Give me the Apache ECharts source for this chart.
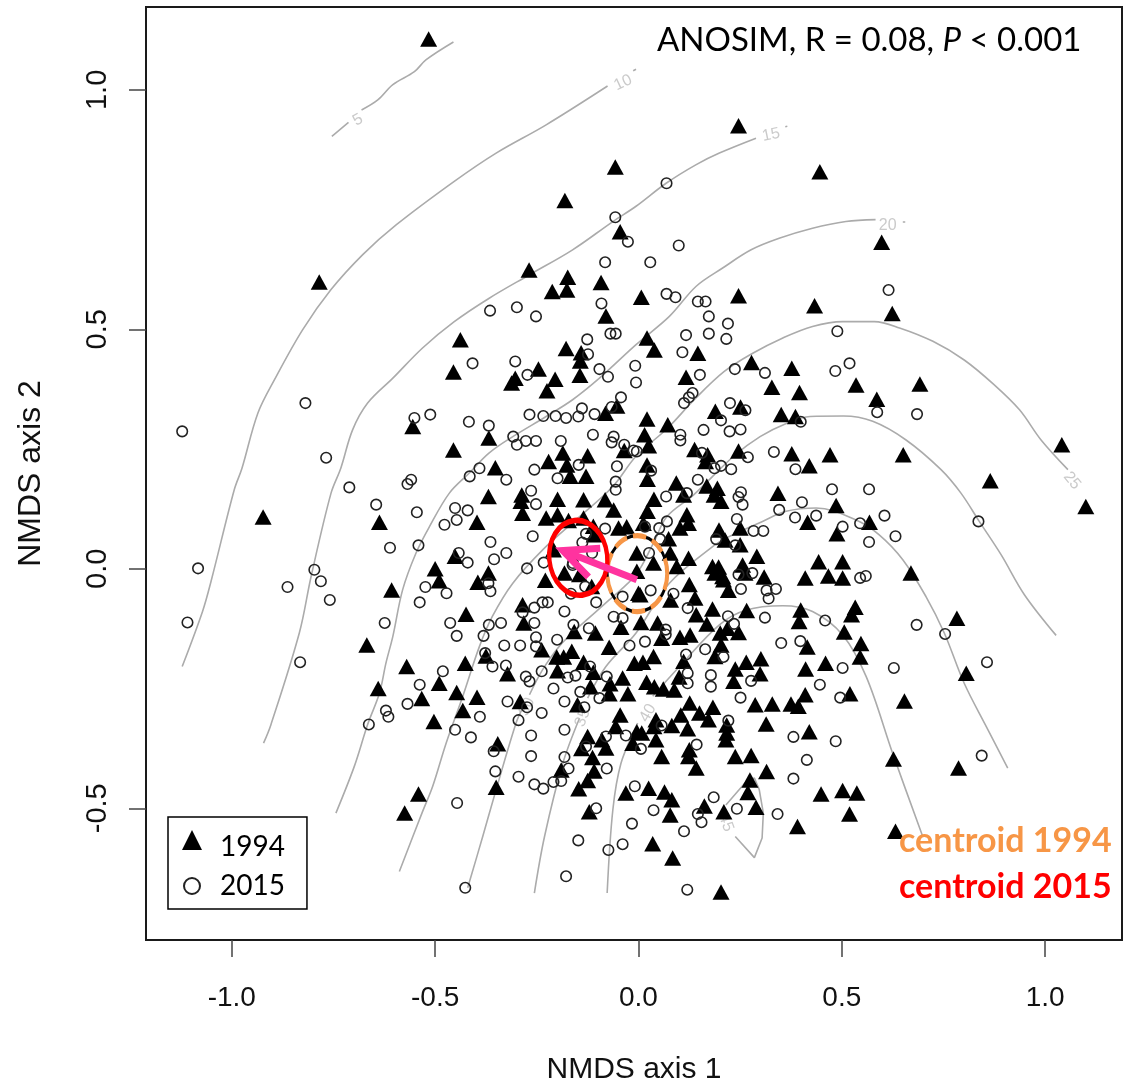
<!DOCTYPE html>
<html><head><meta charset="utf-8">
<style>html,body{margin:0;padding:0;background:#fff}#c{width:1126px;height:1082px}</style>
<script src="https://cdn.jsdelivr.net/npm/echarts@6/dist/echarts.min.js"></script>
</head><body><div id="c"></div>
<script>
const triangles1994 = [
[-0.516,1.106],[-0.057,0.839],[-0.181,0.769],[-0.045,0.704],[-0.269,0.624],[-0.785,0.599],[-0.174,0.609],[-0.176,0.582],[-0.212,0.579],[-0.092,0.598],[-0.080,0.528],[-0.438,0.478],[-0.178,0.460],[-0.141,0.451],[-0.143,0.434],[-0.455,0.411],[-0.303,0.398],[-0.312,0.388],[-0.246,0.417],[-0.205,0.396],[-0.225,0.372],[-0.144,0.404],[-0.053,0.340],[-0.081,0.325],[-0.555,0.297],[-0.368,0.273],[-0.455,0.248],[-0.186,0.242],[-0.125,0.236],[-0.035,0.247],[-0.221,0.224],[-0.176,0.217],[-0.352,0.211],
[0.246,0.925],[0.446,0.829],[0.598,0.682],[0.007,0.567],[0.246,0.570],[0.433,0.549],[0.624,0.533],[0.021,0.482],[0.039,0.457],[0.146,0.450],[0.278,0.431],[0.377,0.419],[0.117,0.400],[0.328,0.379],[0.396,0.368],[0.535,0.384],[0.692,0.386],[0.586,0.354],[0.189,0.329],[0.251,0.338],[0.351,0.322],[0.386,0.318],[0.021,0.313],[0.072,0.301],[1.041,0.259],[0.015,0.280],[0.025,0.257],[0.138,0.249],[0.170,0.238],[0.246,0.246],[0.377,0.240],[0.471,0.238],[0.651,0.238],[0.165,0.224],[0.420,0.215],[0.021,0.217],
[-0.369,0.151],[-0.168,0.193],[-0.129,0.193],[-0.287,0.154],[-0.289,0.141],[-0.285,0.116],[-0.199,0.145],[-0.135,0.144],[-0.082,0.144],[-0.061,0.123],[-0.227,0.106],[-0.199,0.113],[-0.172,0.101],[-0.135,0.106],[-0.111,0.089],[-0.049,0.085],[-0.029,0.088],[-0.397,0.097],[-0.209,0.040],[-0.451,0.026],
[0.343,0.158],[0.486,0.132],[0.416,0.097],[0.488,0.073],[0.568,0.097],[0.022,0.187],[0.093,0.179],[0.038,0.145],[0.111,0.154],[0.022,0.120],[0.168,0.173],[0.194,0.168],[0.186,0.154],[0.203,0.141],[0.119,0.113],[0.123,0.095],[0.102,0.085],[0.012,0.095],[0.074,0.063],[0.078,0.033],[0.198,0.081],[0.250,0.085],[0.213,0.060],[0.250,0.050],[0.123,0.022],[0.291,0.026],[0.256,0.008],[0.037,0.012],[0.182,0.005],[0.197,0.004],[0.443,0.015],[0.502,0.015],[0.094,0.005],
[-0.923,0.108],[-0.637,0.097],[-0.607,-0.044],[-0.500,0.000],[-0.490,-0.025],[-0.369,-0.009],[-0.395,-0.028],[-0.182,-0.009],[-0.145,-0.012],[-0.229,-0.024],[-0.109,0.071],[-0.285,-0.075],[-0.282,-0.113],[-0.424,-0.095],[-0.668,-0.159],[-0.570,-0.204],[-0.426,-0.197],[-0.375,-0.182],[-0.322,-0.219],[-0.490,-0.239],[-0.640,-0.250],[-0.447,-0.258],[-0.397,-0.268],[-0.533,-0.271],[-0.432,-0.296],[-0.503,-0.319],[-0.291,-0.277],[-0.238,-0.169],[-0.158,-0.131],[-0.106,-0.134],[-0.043,-0.122],[-0.072,-0.164],[-0.201,-0.184],[-0.184,-0.184],[-0.164,-0.172],[-0.135,-0.195],[-0.199,-0.213],[-0.111,-0.216],[-0.039,-0.228],[-0.070,-0.240],[-0.118,-0.246],[-0.072,-0.261],[-0.026,-0.261],[-0.150,-0.284],[-0.045,-0.305],[-0.056,-0.329],[-0.125,-0.350],[-0.090,-0.357],[-0.080,-0.374],[-0.140,-0.375],[-0.113,-0.394],[-0.109,-0.422],[-0.125,-0.442],[-0.147,-0.459],[-0.346,-0.365],[-0.190,-0.420],[-0.350,-0.456],[-0.541,-0.470],[-0.575,-0.510],[-0.031,-0.468],[-0.121,-0.507],[-0.014,-0.364],[-0.010,-0.197],[-0.004,-0.340],
[-0.004,0.033],[-0.004,-0.005],[0.000,-0.051],[-0.115,-0.037],[0.006,-0.112],[0.004,-0.054],
[0.410,-0.019],[0.467,-0.015],[0.502,-0.019],[0.309,-0.017],[0.262,-0.009],[0.221,-0.045],[0.209,-0.023],[0.188,-0.009],[0.125,-0.033],[0.139,-0.061],[0.079,-0.065],[0.182,-0.084],[0.142,-0.096],[0.266,-0.087],[0.168,-0.115],[0.399,-0.086],[0.395,-0.110],[0.533,-0.080],[0.524,-0.096],[0.506,-0.132],[0.547,-0.156],[0.545,-0.184],[0.047,-0.113],[0.057,-0.145],[0.102,-0.143],[0.127,-0.138],[0.201,-0.134],[0.219,-0.124],[0.246,-0.133],[0.203,-0.159],[0.188,-0.183],[0.037,-0.183],[0.011,-0.195],[0.415,-0.163],[0.411,-0.209],[0.460,-0.197],[0.265,-0.195],[0.301,-0.188],[0.238,-0.209],[0.299,-0.219],[0.234,-0.235],[0.111,-0.193],[0.100,-0.226],[0.020,-0.237],[0.039,-0.246],[0.061,-0.251],[0.088,-0.253],[0.126,-0.280],[0.183,-0.289],[0.150,-0.301],[0.104,-0.305],[0.172,-0.315],[0.287,-0.284],[0.329,-0.282],[0.375,-0.282],[0.393,-0.287],[0.410,-0.263],[0.520,-0.261],[0.314,-0.324],[0.420,-0.340],[0.043,-0.315],[0.038,-0.329],[0.082,-0.327],[0.121,-0.334],[0.043,-0.357],[0.217,-0.326],[0.217,-0.343],[0.215,-0.357],[0.125,-0.378],[0.123,-0.392],[0.057,-0.392],[0.238,-0.392],[0.277,-0.390],[0.008,-0.343],
[0.865,0.184],[1.100,0.130],[0.670,-0.009],[0.783,-0.103],[0.806,-0.218],[0.654,-0.276],[0.627,-0.397],[0.787,-0.416],[0.315,-0.423],[0.274,-0.441],[0.269,-0.467],[0.289,-0.498],[0.210,-0.507],[0.449,-0.470],[0.502,-0.463],[0.537,-0.468],[0.519,-0.512],[0.391,-0.538],[0.632,-0.548],[0.142,-0.416],[0.025,-0.458],[0.064,-0.466],[0.082,-0.482],[0.078,-0.514],[0.162,-0.495],[0.035,-0.574],[0.084,-0.604],[0.203,-0.675],[0.207,-0.016]
];
const circles2015 = [
[-1.122,0.287],[-0.819,0.346],[-0.768,0.232],[-0.551,0.315],[-0.512,0.322],[-0.417,0.307],[-0.368,0.299],[-0.057,0.734],[-0.026,0.683],[-0.082,0.640],[-0.365,0.539],[-0.299,0.546],[-0.252,0.527],[-0.091,0.554],[-0.069,0.491],[-0.056,0.491],[-0.126,0.479],[-0.124,0.448],[-0.408,0.429],[-0.303,0.433],[-0.273,0.405],[-0.096,0.417],[-0.075,0.401],[-0.008,0.424],[-0.006,0.389],[-0.043,0.358],[-0.066,0.338],[-0.139,0.335],[-0.108,0.323],[-0.148,0.318],[-0.178,0.315],[-0.204,0.319],[-0.234,0.319],[-0.268,0.322],[-0.308,0.276],[-0.299,0.259],[-0.277,0.267],[-0.252,0.267],[-0.191,0.267],[-0.112,0.280],[-0.061,0.276],[-0.066,0.264],[-0.035,0.259],[-0.012,0.247],[-0.147,0.217],[-0.053,0.214],[-0.256,0.207],[-0.391,0.210],
[0.069,0.805],[0.099,0.675],[0.029,0.640],[0.615,0.582],[0.069,0.574],[0.091,0.567],[0.146,0.558],[0.165,0.558],[0.173,0.527],[0.220,0.512],[0.173,0.491],[0.216,0.480],[0.117,0.488],[0.108,0.452],[0.489,0.496],[0.519,0.429],[0.484,0.413],[0.237,0.417],[0.311,0.409],[0.151,0.405],[0.133,0.367],[0.124,0.358],[0.112,0.346],[0.225,0.346],[0.263,0.331],[0.203,0.310],[0.160,0.290],[0.224,0.287],[0.251,0.291],[0.399,0.307],[0.587,0.327],[0.685,0.323],[0.103,0.280],[0.103,0.268],[0.333,0.244],[0.269,0.233],[0.156,0.242],[0.203,0.215],[0.187,0.210],[0.228,0.208],[0.386,0.208],[-0.004,0.245],
[-0.415,0.193],[-0.325,0.186],[-0.199,0.189],[-0.056,0.182],[-0.056,0.165],[-0.264,0.163],[-0.252,0.135],[-0.568,0.177],[-0.559,0.186],[-0.545,0.118],[-0.451,0.127],[-0.420,0.122],[-0.447,0.102],[-0.477,0.092],[-0.364,0.056],[-0.260,0.068],[-0.541,0.049],[-0.442,0.033],[-0.325,0.033],[-0.355,0.020],[-0.420,0.013],[-0.274,0.001],[-0.129,0.073],[-0.138,0.055],[-0.082,0.084],[-0.161,0.012],
[0.146,0.186],[0.031,0.205],[0.119,0.158],[0.068,0.151],[0.476,0.166],[0.567,0.166],[0.252,0.160],[0.246,0.150],[0.256,0.134],[0.402,0.139],[0.346,0.123],[0.385,0.107],[0.437,0.111],[0.242,0.104],[0.070,0.099],[0.051,0.085],[0.016,0.088],[0.502,0.088],[0.545,0.095],[0.567,0.056],[0.283,0.079],[0.307,0.079],[0.191,0.062],[0.238,0.049],[0.053,0.062],[0.026,0.033],[0.605,0.111],[0.632,0.068],[0.836,0.099],
[-1.083,0.001],[-1.109,-0.112],[-0.863,-0.038],[-0.797,-0.002],[-0.781,-0.026],[-0.759,-0.065],[-0.832,-0.195],[-0.711,0.170],[-0.645,0.134],[-0.611,0.044],[-0.524,-0.038],[-0.472,-0.051],[-0.538,-0.070],[-0.369,-0.030],[-0.364,-0.047],[-0.624,-0.113],[-0.463,-0.113],[-0.447,-0.140],[-0.368,-0.117],[-0.381,-0.140],[-0.338,-0.113],[-0.330,-0.160],[-0.291,-0.160],[-0.256,-0.081],[-0.236,-0.070],[-0.223,-0.070],[-0.182,-0.089],[-0.104,-0.070],[-0.256,-0.113],[-0.252,-0.143],[-0.252,-0.162],[-0.200,-0.148],[-0.160,-0.117],[-0.122,-0.124],[-0.061,-0.100],[-0.039,-0.103],[-0.022,-0.160],[-0.166,-0.052],[-0.131,-0.037],[-0.162,0.008],[-0.233,0.013],[-0.377,-0.176],[-0.359,-0.204],[-0.326,-0.202],[-0.481,-0.214],[-0.538,-0.242],[-0.568,-0.282],[-0.621,-0.296],[-0.615,-0.309],[-0.663,-0.325],[-0.390,-0.309],[-0.451,-0.336],[-0.412,-0.352],[-0.322,-0.277],[-0.277,-0.225],[-0.268,-0.235],[-0.238,-0.214],[-0.209,-0.250],[-0.174,-0.227],[-0.155,-0.223],[-0.078,-0.225],[-0.143,-0.257],[-0.096,-0.270],[-0.182,-0.277],[-0.274,-0.289],[-0.238,-0.301],[-0.295,-0.316],[-0.133,-0.289],[-0.182,-0.336],[-0.264,-0.348],[-0.264,-0.391],[-0.182,-0.393],[-0.172,-0.417],[-0.078,-0.417],[-0.356,-0.381],[-0.352,-0.423],[-0.295,-0.434],[-0.256,-0.450],[-0.234,-0.459],[-0.209,-0.445],[-0.190,-0.443],[-0.080,-0.350],[-0.031,-0.348],[-0.129,-0.371],[-0.446,-0.489],[-0.104,-0.500],[-0.009,-0.454],[-0.016,-0.532],[-0.148,-0.567],[-0.039,-0.575],[-0.074,-0.587],[-0.178,-0.642],[-0.426,-0.666],[-0.114,0.033],[-0.039,-0.058],[-0.285,-0.091],[-0.119,-0.204],
[0.545,-0.019],[0.559,-0.015],[0.252,-0.042],[0.315,-0.045],[0.338,-0.042],[0.320,-0.062],[0.246,-0.012],[0.280,-0.009],[0.121,-0.082],[0.220,-0.099],[0.235,-0.115],[0.311,-0.102],[0.459,-0.108],[0.351,-0.155],[0.398,-0.151],[0.164,-0.168],[0.209,-0.184],[0.117,-0.179],[0.121,-0.218],[0.121,-0.239],[0.178,-0.222],[0.178,-0.246],[0.277,-0.234],[0.502,-0.207],[0.446,-0.242],[0.251,-0.269],[0.496,-0.269],[0.016,-0.152],[0.067,-0.127],[0.067,-0.137],[0.221,-0.317],[0.381,-0.351],[0.485,-0.360],[0.143,-0.367],[0.057,-0.327],[0.006,-0.376],[0.086,-0.052],[0.030,-0.045],[0.414,-0.399],
[0.857,-0.195],[0.844,-0.390],[0.754,-0.136],[0.684,-0.117],[0.628,-0.207],[0.381,-0.438],[0.342,-0.512],[0.242,-0.501],[0.185,-0.477],[0.146,-0.512],[0.155,-0.529],[0.112,-0.548],[0.037,-0.504],[0.120,-0.670]
];
const contour5a = [[-0.754,0.903],[-0.713,0.932]];
const contour5b = [[-0.681,0.958],[-0.641,0.979],[-0.604,1.011],[-0.551,1.038],[-0.522,1.063],[-0.455,1.100]];
const contour10 = [[-1.122,-0.204],[-1.072,-0.089],[-1.051,-0.026],[-0.994,0.165],[-0.975,0.210],[-0.936,0.325],[-0.895,0.395],[-0.826,0.499],[-0.756,0.583],[-0.678,0.656],[-0.596,0.718],[-0.453,0.809],[-0.350,0.868],[-0.227,0.927],[-0.076,1.008]];
const contour10end = [[-0.013,1.040],[-0.006,1.043]];
const contour15 = [[-0.922,-0.364],[-0.904,-0.326],[-0.834,-0.134],[-0.805,-0.016],[-0.756,0.158],[-0.732,0.210],[-0.703,0.290],[-0.666,0.346],[-0.604,0.398],[-0.531,0.461],[-0.453,0.516],[-0.367,0.565],[-0.268,0.614],[-0.162,0.666],[-0.063,0.725],[-0.006,0.757],[0.068,0.805],[0.142,0.844],[0.199,0.868],[0.289,0.899]];
const contour15end = [[0.361,0.923],[0.366,0.924]];
const contour20 = [[-0.744,-0.510],[-0.699,-0.413],[-0.666,-0.325],[-0.637,-0.260],[-0.621,-0.197],[-0.604,-0.141],[-0.580,-0.044],[-0.547,0.033],[-0.514,0.088],[-0.465,0.158],[-0.416,0.200],[-0.367,0.242],[-0.309,0.276],[-0.227,0.318],[-0.162,0.353],[-0.096,0.398],[-0.006,0.468],[0.076,0.527],[0.142,0.590],[0.207,0.628],[0.277,0.666],[0.346,0.690],[0.428,0.711],[0.510,0.725],[0.583,0.729]];
const contour20end = [[0.650,0.724],[0.656,0.724]];
const contour25 = [[-0.588,-0.632],[-0.531,-0.507],[-0.506,-0.454],[-0.473,-0.364],[-0.432,-0.266],[-0.391,-0.162],[-0.359,-0.099],[-0.309,-0.030],[-0.235,0.040],[-0.154,0.102],[-0.063,0.172],[-0.006,0.235],[0.072,0.294],[0.137,0.353],[0.211,0.412],[0.281,0.450],[0.355,0.482],[0.428,0.506],[0.502,0.516],[0.580,0.516],[0.642,0.503],[0.724,0.475],[0.801,0.436],[0.875,0.384],[0.937,0.332],[0.990,0.269],[1.056,0.207]];
const contour30a = [[-0.420,-0.666],[-0.383,-0.559],[-0.350,-0.461],[-0.301,-0.322],[-0.285,-0.291]];
const contour30b = [[-0.268,-0.263],[-0.236,-0.211],[-0.195,-0.162],[-0.145,-0.120],[-0.072,-0.065],[-0.006,-0.012],[0.037,0.054],[0.070,0.109],[0.135,0.154],[0.234,0.235],[0.299,0.276],[0.365,0.304],[0.422,0.318],[0.504,0.319],[0.576,0.308],[0.658,0.269],[0.744,0.207],[0.793,0.158],[0.838,0.099],[0.892,0.029],[0.949,-0.054],[1.027,-0.139]];
const contour35a = [[-0.256,-0.677],[-0.231,-0.559],[-0.186,-0.406],[-0.145,-0.312]];
const contour35b = [[-0.125,-0.270],[-0.080,-0.204],[-0.006,-0.134],[0.076,-0.030],[0.183,0.047],[0.215,0.064],[0.305,0.099],[0.363,0.120],[0.437,0.127],[0.535,0.102],[0.592,0.071],[0.650,0.019],[0.707,-0.058],[0.752,-0.134],[0.801,-0.239],[0.855,-0.329],[0.908,-0.416]];
const contour40a = [[-0.077,-0.677],[-0.063,-0.503],[-0.043,-0.406],[-0.006,-0.329],[-0.002,-0.322]];
const contour40b = [[0.035,-0.266],[0.101,-0.204],[0.199,-0.117],[0.265,-0.086],[0.355,-0.077],[0.428,-0.089],[0.502,-0.138],[0.560,-0.225],[0.625,-0.385],[0.699,-0.559]];
const contour45 = [[0.215,-0.493],[0.265,-0.444],[0.285,-0.437],[0.297,-0.461],[0.307,-0.510],[0.304,-0.562],[0.285,-0.603],[0.238,-0.559]];
const contourLabelPoints = [[-0.690,0.937,'5',30],[-0.038,1.015,'10',25],[0.326,0.906,'15',12],[0.613,0.716,'20',0],[1.066,0.184,'25',-50],[-0.274,-0.288,'30',65],[-0.137,-0.311,'35',70],[0.023,-0.301,'40',60],[0.215,-0.530,'45',-70]];
const centroid1994 = [[-0.003,-0.010]];
const centroid2015 = [[-0.148,0.023]];
const arrowShaft = [[-0.004,-0.023],[-0.180,0.036]];
const arrowHead = [[-0.094,0.043],[-0.186,0.038],[-0.123,-0.017]];
const xTicks = [-1,-0.5,0,0.5,1];
const yTicks = [-0.5,0,0.5,1];
const xName = 'NMDS axis 1', yName = 'NMDS axis 2';

const contours = [contour5a,contour5b,contour10,contour10end,contour15,contour15end,contour20,contour20end,contour25,contour30a,contour30b,contour35a,contour35b,contour40a,contour40b,contour45];
const sans = '"Liberation Sans", Arial, sans-serif';
const chart = echarts.init(document.getElementById('c'), null, {renderer:'canvas', width:1126, height:1082});
const contourSeries = contours.map(d => ({type:'line', data:d, showSymbol:false, silent:true, z:1,
  smooth: d === contour45 ? false : 0.35,
  lineStyle:{color:'#ababab', width:1.6, opacity:1}, itemStyle:{color:'#ababab'}}));
const legendTriangleIcon = 'path://M11,0 L21,20 L1,20 Z M0,0 L0,0 M22,34 L22,34';
const legendCircleIcon = 'path://M3,17 a8,8 0 1,0 16,0 a8,8 0 1,0 -16,0 Z M0,0 L0,0 M22,34 L22,34';
chart.setOption({
  animation:false,
  backgroundColor:'#fff',
  grid:{left:146, width:976, top:7, height:933, outerBoundsMode:'none', show:true, borderColor:'#1a1a1a', borderWidth:2, backgroundColor:'#fff'},
  xAxis:{type:'value', min:-1.211, max:1.189, name:xName, nameLocation:'middle', nameGap:115,
    nameTextStyle:{fontFamily:sans, fontSize:30, color:'#111'},
    splitLine:{show:false},
    axisLine:{show:true, onZero:false, lineStyle:{color:'#1a1a1a', width:2}},
    axisTick:{show:true, length:17, customValues:xTicks, lineStyle:{color:'#444', width:1.5}},
    axisLabel:{customValues:xTicks, margin:44, fontFamily:sans, fontSize:28, color:'#111', formatter:v=>v.toFixed(1), showMinLabel:true, showMaxLabel:true}},
  yAxis:{type:'value', min:-0.775, max:1.173, name:yName, nameLocation:'middle', nameGap:99, nameRotate:90,
    nameTextStyle:{fontFamily:sans, fontSize:32, color:'#111'},
    splitLine:{show:false},
    axisLine:{show:true, onZero:false, lineStyle:{color:'#1a1a1a', width:2}},
    axisTick:{show:true, length:17, customValues:yTicks, lineStyle:{color:'#444', width:1.5}},
    axisLabel:{customValues:yTicks, rotate:90, margin:34, fontFamily:sans, fontSize:29, color:'#111', formatter:v=>v.toFixed(1)}},
  legend:{data:[{name:'1994',icon:legendTriangleIcon},{name:'2015',icon:legendCircleIcon}], orient:'vertical', left:168, top:817, selectedMode:false,
    padding:[13,22,5,12], itemGap:4, itemWidth:22, itemHeight:34, backgroundColor:'#fff', borderColor:'#000', borderWidth:1.5, borderRadius:0,
    textStyle:{fontFamily:'Lato', fontSize:28, color:'#000', lineHeight:24, padding:[0,0,0,12]}},
  title:[
    {text:'{a|ANOSIM, R = 0.08, }{b|P}{a| < 0.001}', left:657, top:24, padding:0, textStyle:{fontWeight:'normal', rich:{
      a:{fontFamily:'Lato', fontSize:33, fontWeight:'normal', color:'#000'}, b:{fontFamily:'Lato', fontSize:33, fontWeight:'normal', fontStyle:'italic', color:'#000'}}}},
    {text:'centroid 1994', left:899, top:824, padding:0, textStyle:{fontFamily:'Lato', fontSize:34, fontWeight:'bold', color:'#F79646'}},
    {text:'centroid 2015', left:899, top:870, padding:0, textStyle:{fontFamily:'Lato', fontSize:34, fontWeight:'bold', color:'#FF0000'}}
  ],
  series:[
    ...contourSeries,
    {type:'scatter', data:contourLabelPoints.map(p=>({value:[p[0],p[1]], label:{formatter:p[2], rotate:p[3]}})), symbolSize:0, silent:true, z:2,
      label:{show:true, position:'inside', color:'#bdbdbd', fontFamily:sans, fontSize:16}},
    {type:'scatter', name:'1994', data:triangles1994, symbol:'triangle', symbolSize:[17,15.5], silent:true, z:3, itemStyle:{color:'#000', opacity:1}},
    {type:'scatter', name:'2015', data:circles2015, symbol:'circle', symbolSize:10.5, silent:true, z:4, itemStyle:{color:'transparent', borderColor:'#222', borderWidth:1.6, opacity:1}},
    {type:'scatter', data:centroid1994, symbol:'circle', symbolSize:[60,76], silent:true, z:5, itemStyle:{color:'transparent', borderColor:'#000', borderWidth:3, opacity:1}},
    {type:'scatter', data:centroid1994, symbol:'circle', symbolSize:[60,76], silent:true, z:6, itemStyle:{color:'transparent', borderColor:'#F79646', borderWidth:4.5, borderType:[15,7], opacity:1}},
    {type:'scatter', data:centroid2015, symbol:'circle', symbolSize:[58,75], symbolRotate:6, silent:true, z:7, itemStyle:{color:'transparent', borderColor:'#FF0000', borderWidth:5, opacity:1}},
    {type:'line', data:arrowShaft, showSymbol:false, silent:true, z:8, lineStyle:{color:'#FF339F', width:7, cap:'butt'}},
    {type:'line', data:arrowHead, showSymbol:false, silent:true, z:8, lineStyle:{color:'#FF339F', width:7, join:'miter', miterLimit:10, cap:'butt'}}
  ]
});
</script></body></html>
